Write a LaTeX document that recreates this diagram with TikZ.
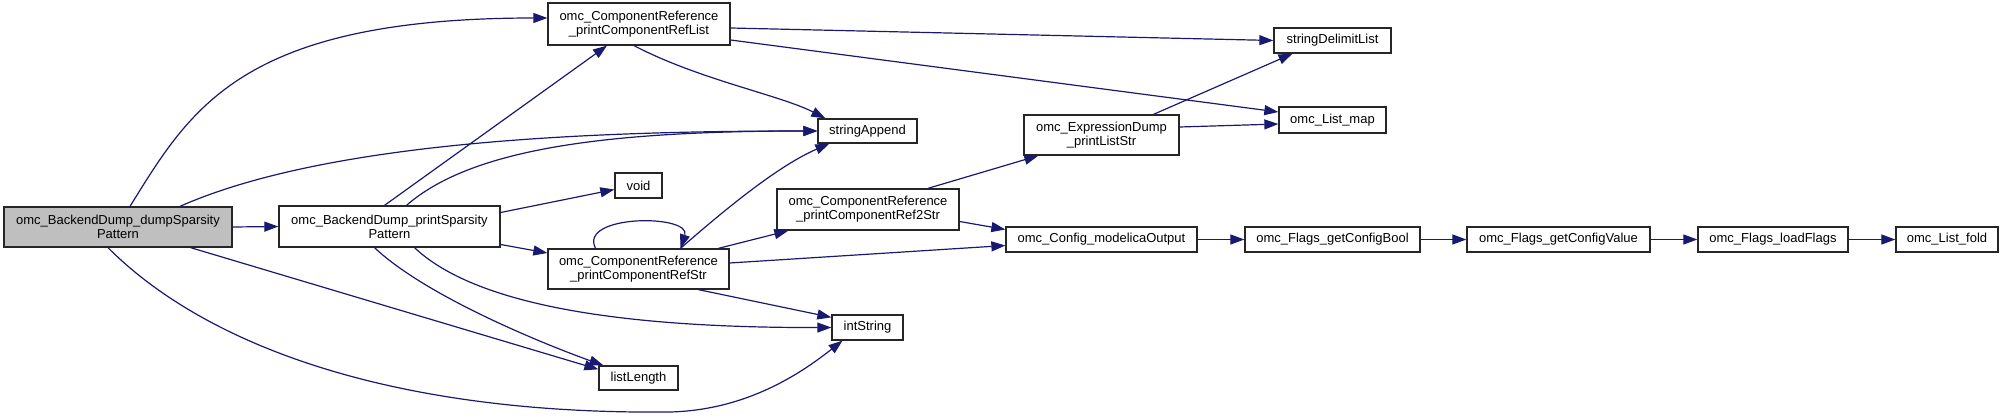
\documentclass[tikz,border=0pt]{standalone}
\usepackage{fontspec}
\setmainfont{Liberation Sans}
\usetikzlibrary{arrows.meta}

\definecolor{callblue}{HTML}{191970}
\definecolor{rootgray}{HTML}{BFBFBF}

\begin{document}
\begin{tikzpicture}[
  x=1pt, y=-1pt,
  font=\fontsize{13}{14}\selectfont,
  fn/.style={draw=black!85, line width=1.3pt, fill=white, align=center,
             inner sep=0pt},
  rootfn/.style={fn, fill=rootgray},
  call/.style={-{Triangle[length=14pt,width=10pt]}, line width=1.2pt, draw=callblue}
]
\useasboundingbox (0,0) rectangle (2004,420);

% ================= Column 1: root =================
\node[rootfn, minimum width=228, minimum height=40] (dump) at (118,227)
  {omc\_BackendDump\_dumpSparsity\\Pattern};

% ================= Column 2 =================
\node[fn, minimum width=221, minimum height=41] (psp) at (389.5,226.5)
  {omc\_BackendDump\_printSparsity\\Pattern};

% ================= Column 3 =================
\node[fn, minimum width=182, minimum height=42] (refList) at (639,24)
  {omc\_ComponentReference\\\_printComponentRefList};
\node[fn, minimum width=47, minimum height=25] (void) at (638.5,185.5) {void};
\node[fn, minimum width=181, minimum height=40] (refStr) at (638.5,269)
  {omc\_ComponentReference\\\_printComponentRefStr};
\node[fn, minimum width=79, minimum height=24] (listLen) at (638.5,378) {listLength};

% ================= Column 4 =================
\node[fn, minimum width=99, minimum height=24] (strApp) at (867.5,131) {stringAppend};
\node[fn, minimum width=182, minimum height=41] (ref2Str) at (868,209.5)
  {omc\_ComponentReference\\\_printComponentRef2Str};
\node[fn, minimum width=71, minimum height=25] (intStr) at (867.5,327.5) {intString};

% ================= Column 5 =================
\node[fn, minimum width=155, minimum height=40] (exprDump) at (1101.5,135)
  {omc\_ExpressionDump\\\_printListStr};
\node[fn, minimum width=191, minimum height=25] (modOut) at (1101.5,239.5)
  {omc\_Config\_modelicaOutput};

% ================= Column 6 and chain =================
\node[fn, minimum width=117, minimum height=25] (strDelim) at (1332.5,40.5) {stringDelimitList};
\node[fn, minimum width=107, minimum height=26] (listMap) at (1332.5,120) {omc\_List\_map};
\node[fn, minimum width=175, minimum height=25] (cfgBool) at (1332.5,239.5) {omc\_Flags\_getConfigBool};
\node[fn, minimum width=183, minimum height=25] (cfgValue) at (1558.5,239.5) {omc\_Flags\_getConfigValue};
\node[fn, minimum width=150, minimum height=25] (loadFlags) at (1773,239.5) {omc\_Flags\_loadFlags};
\node[fn, minimum width=102, minimum height=25] (listFold) at (1947,239.5) {omc\_List\_fold};

% ================= Calls from root =================
\draw[call] ([xshift=12]dump.north) .. controls (190,110) and (240,18) .. ([yshift=6]refList.west);
\draw[call] ([xshift=62]dump.north) .. controls (330,140) and (600,131) .. (strApp.west);
\draw[call] (dump.east) -- (psp.west);
\draw[call] ([xshift=-42]dump.south east) -- ([yshift=-4]listLen.north west);
\draw[call] ([xshift=-10]dump.south) .. controls (200,340) and (380,415) .. (670,412)
  .. controls (750,410) and (805,370) .. ([xshift=-25]intStr.south);

% ================= Calls from printSparsity =================
\draw[call] ([xshift=-5]psp.north) -- ([xshift=-32]refList.south);
\draw[call] ([xshift=17]psp.north) .. controls (470,150) and (600,131) .. (strApp.west);
\draw[call] ([yshift=14]psp.east) -- ([yshift=-4]void.west);
\draw[call] ([yshift=-18]psp.east) -- ([yshift=16]refStr.west);
\draw[call] ([xshift=-15]psp.south) .. controls (430,300) and (560,350) .. ([xshift=5]listLen.north west);
\draw[call] ([xshift=25]psp.south) .. controls (470,300) and (600,328) .. (intStr.west);

% ================= Calls from printComponentRefStr / RefList =================
\draw[call] ([xshift=-43]refStr.north) .. controls (578,214) and (692,214) .. ([xshift=42]refStr.north);
\draw[call] ([xshift=42]refStr.north) .. controls (730,205) and (780,165) .. ([xshift=12]strApp.south west);
\draw[call] ([xshift=80]refStr.north) -- ([xshift=12]ref2Str.south west);
\draw[call] ([yshift=6]refStr.east) -- ([yshift=-6]modOut.west);
\draw[call] ([xshift=60]refStr.south) -- ([yshift=-3]intStr.north west);
\draw[call] ([yshift=-4]refList.east) -- (strDelim.west);
\draw[call] ([yshift=-16]refList.east) -- ([yshift=8]listMap.west);
\draw[call] ([xshift=-5]refList.south) .. controls (700,80) and (780,95) .. ([xshift=8]strApp.north west);

% ================= Right side =================
\draw[call] ([xshift=60]ref2Str.north) -- ([xshift=15]exprDump.south west);
\draw[call] ([yshift=-12]ref2Str.east) -- ([yshift=10]modOut.west);
\draw[call] ([xshift=52]exprDump.north) -- ([xshift=-40]strDelim.south);
\draw[call] ([yshift=8]exprDump.east) -- ([yshift=-4]listMap.west);
\draw[call] (modOut) -- (cfgBool);
\draw[call] (cfgBool) -- (cfgValue);
\draw[call] (cfgValue) -- (loadFlags);
\draw[call] (loadFlags) -- (listFold);

\end{tikzpicture}
\end{document}
